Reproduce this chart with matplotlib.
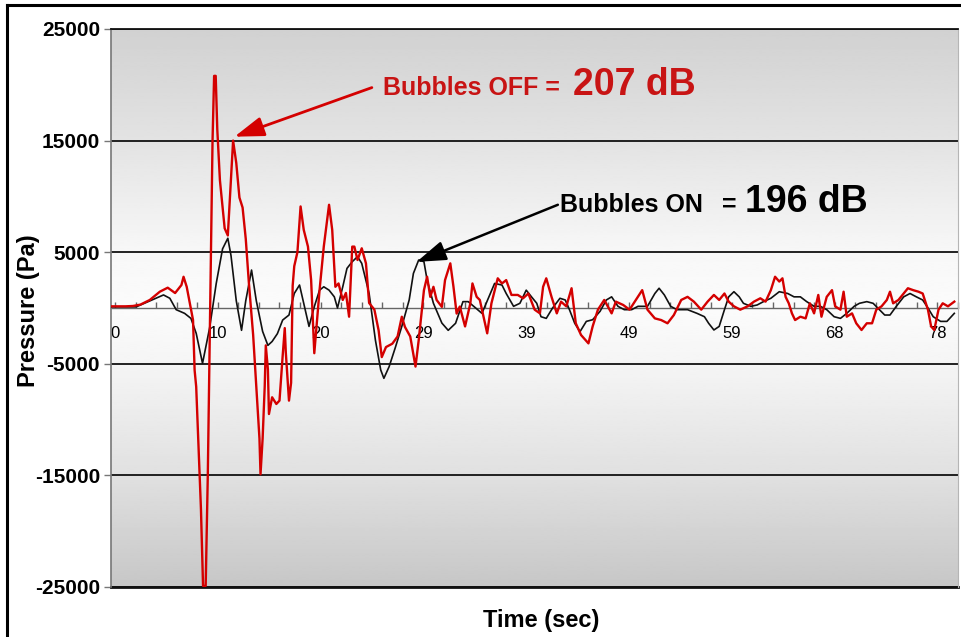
import numpy as np
import matplotlib
matplotlib.use("Agg")
import matplotlib.pyplot as plt
from matplotlib.lines import Line2D

plt.rcParams['font.family'] = ['Liberation Sans', 'DejaVu Sans']

# ---------------- data ----------------
# Bubbles OFF (red) : time (sec), pressure (Pa)
off_t = [-0.4, 1.0, 1.7, 2.4, 3.3, 4.25, 5.0, 5.7, 6.3, 6.5, 6.8, 7.4, 7.55,
         7.7, 7.95, 8.15, 8.35, 8.6, 8.8, 8.95, 9.1, 9.25, 9.4, 9.55, 9.7, 9.95,
         10.4, 10.7, 11.2, 11.5, 11.8, 12.1, 12.4, 12.7, 13.1, 13.4, 13.7, 13.8,
         14.0, 14.2, 14.3, 14.5, 14.6, 14.9, 15.3, 15.6, 15.9, 16.1,
         16.2, 16.5, 16.7, 16.85, 17.0, 17.3, 17.6, 17.9, 18.3, 18.6,
         18.9, 19.4, 19.8, 20.3, 20.6, 20.9, 21.2, 21.6, 21.9, 22.2,
         22.5, 22.7, 23.0, 23.4, 23.8, 24.1, 24.6, 25.0, 25.3, 25.7,
         26.3, 26.8, 27.2, 27.5, 28.0, 28.5, 28.8, 29.3, 29.6, 29.9,
         30.2, 30.5,
         31.0, 31.3, 31.8, 32.1, 32.4, 32.7, 33.2, 33.7, 33.9, 34.3,
         34.6, 35.3, 35.7, 36.3, 36.7, 37.1, 37.6, 38.2, 38.7, 39.2,
         39.8, 40.3, 40.6, 40.9, 41.4, 41.9, 42.3, 42.8, 43.3, 43.7,
         44.2, 44.9, 45.3, 45.8,
         46.4, 47.1, 47.5, 48.2, 48.8, 49.4, 50.0, 50.5, 51.2, 51.8,
         52.4, 53.0, 53.7, 54.3, 54.9, 55.6, 56.2, 56.8, 57.3, 57.8,
         58.2, 58.7, 59.3, 60.0, 60.6, 61.2, 61.7, 62.2, 62.6, 63.0,
         63.3, 63.6, 63.9, 64.2, 64.5, 65.0, 65.5, 65.9, 66.3, 66.7,
         67.0, 67.5, 68.0, 68.3, 68.8, 69.1, 69.4, 69.9, 70.3, 70.8,
         71.3, 71.8, 72.2, 72.7, 73.2, 73.5, 73.8, 74.3, 74.8, 75.2,
         75.7, 76.2, 76.6, 77.1, 77.4, 77.7, 78.1, 78.5, 79.0, 79.6]
off_p = [150, 150, 180, 300, 720, 1460, 1820, 1340, 2060, 2800, 1900, -1080, -5570,
         -7050, -13000, -18000, -24900, -24900, -15000, -5000, 5000, 15000, 20800, 20800, 16000, 11450,
         7140, 6500, 15000, 13000, 9900, 9000, 6200, 2200, -2400, -7050, -11700, -14900,
         -11700, -7000, -3350, -5500, -9500, -8000, -8600, -8300, -4300, -1800,
         -4000, -8300, -6700, 2000, 3750, 5000, 9100, 7000, 5500, 2500,
         -4050, 1600, 5500, 9250, 7000, 1900, 2200, 720, 1350, -780,
         5500, 5500, 4300, 5350, 4000, 450, -150, -2000, -4400, -3500,
         -3200, -2550, -780, -1700, -2550, -5250, -2900, 1600, 2800, 1000,
         1900, 720,
         100, 2500, 4000, 1900, -500, 130, -1650, 420, 2200, 1000,
         720, -2270, 420, 2660, 2200, 2500, 1170, 1170, 870, 1300,
         -150, -480, 1900, 2660, 1000, -480, 570, 150, 1770, -1370,
         -2420, -3170, -1650, -150,
         720, -480, 570, 270, -150, 720, 1600, -150, -930, -1080,
         -1370, -630, 720, 1000, 570, -150, 570, 1170, 720, 1300,
         570, 150, -150, 150, 570, 870, 570, 1600, 2800, 2370,
         2660, 1000, 420, -480, -1080, -780, -930, 420, -480, 1170,
         -780, 1000, 1600, 150, -150, 1460, -780, -480, -1370, -1970,
         -1370, -1370, -150, 150, 720, 1460, 420, 720, 1300, 1770,
         1600, 1460, 1300, -150, -1650, -1970, -150, 420, 150, 570]

# Bubbles ON (black)
on_t = [-0.4, 2.0, 3.3, 4.6, 5.2, 5.8, 6.6, 7.2, 7.7, 8.3,
        8.97, 9.6, 10.2, 10.7, 11.0, 11.5, 12.0, 12.4, 12.95, 13.4,
        14.0, 14.5, 14.9, 15.4, 15.9, 16.5, 17.0, 17.5, 17.9, 18.4,
        18.9, 19.4, 19.8, 20.3, 20.8, 21.1, 21.6, 22.0, 22.5, 23.0,
        23.4, 24.1, 24.7, 25.2, 25.5, 26.0, 26.6, 27.2, 27.9, 28.3,
        28.8, 29.3, 29.6, 30.2, 31.0, 31.6, 32.3, 33.0, 33.5, 34.2,
        34.8, 35.4, 36.0, 36.7, 37.1, 37.8, 38.4, 39.0, 39.5, 40.0,
        40.4, 40.9, 41.5, 42.2, 42.7, 43.1, 43.6, 44.1, 44.7, 45.3,
        46.0, 46.6, 47.1, 47.7, 48.3, 49.0, 49.6, 50.5, 51.2, 51.6,
        52.1, 52.7, 53.3, 54.3, 55.2, 55.9, 56.3, 56.8, 57.3, 57.8,
        58.2, 58.7, 59.2, 59.6, 60.3, 60.9, 61.5, 62.2, 63.0, 63.8,
        64.4, 65.0, 65.6, 66.3, 66.9, 67.5, 68.2, 68.8, 69.4, 70.1,
        70.6, 71.3, 71.9, 72.5, 73.0, 73.5, 74.1, 74.8, 75.4, 76.0,
        76.6, 77.1, 77.6, 78.3, 78.9, 79.6]
on_p = [100, 100, 630, 1170, 870, -150, -480, -930, -2270, -4960,
        -1800, 2200, 5300, 6250, 4700, 650, -2000, 650, 3400, 650,
        -2100, -3350, -3000, -2300, -1080, -630, 1300, 2060, 420, -1650,
        120, 1600, 1900, 1600, 1000, 0, 1900, 3550, 4150, 4600,
        4000, 1300, -2900, -5550, -6300, -5250, -3500, -1650, 720, 3100,
        4300, 4150, 2500, 420, -1350, -2000, -1370, 570, 570, 0,
        -480, 870, 2200, 2060, 1300, 150, 420, 1600, 1000, 420,
        -780, -930, 0, 870, 720, -150, -1370, -2120, -1200, -1050,
        -300, 720, 1000, 150, -150, -150, 150, 150, 1300, 1770,
        1170, 150, -150, -150, -480, -780, -1370, -1970, -1650, -150,
        1000, 1460, 1000, 420, 150, 270, 570, 870, 1460, 1300,
        1000, 1000, 570, 150, 150, -150, -780, -930, -480, 150,
        420, 570, 420, -150, -630, -630, 150, 1000, 1300, 1000,
        720, 0, -780, -1200, -1200, -480]

x_tick_labels = ["0", "10", "20", "29", "39", "49", "59", "68", "78"]
x_label_step = 9.75
y_ticks = [-25000, -15000, -5000, 5000, 15000, 25000]

RED = '#d40000'
RED_TXT = '#c81414'

# ---------------- figure ----------------
W, H = 961, 637
fig = plt.figure(figsize=(W / 100, H / 100), dpi=100)
fig.patch.set_facecolor('white')

L, R, T, B = 111, 958, 29, 587
ax = fig.add_axes([L / W, 1 - B / H, (R - L) / W, (B - T) / H])

# background gradient
fy = np.array([0.0, 0.2, 0.4, 0.5, 0.6, 0.8, 1.0])
fv = np.array([0.78, 0.88, 0.96, 0.985, 0.97, 0.89, 0.82])
yy = np.linspace(0, 1, 300)
grad = np.interp(yy, fy, fv)[::-1].reshape(-1, 1)
ax.imshow(grad, extent=[0, 1, 0, 1], transform=ax.transAxes, aspect='auto',
          cmap='gray', vmin=0, vmax=1, zorder=0, interpolation='bilinear')

ax.plot(on_t, on_p, color='#111111', lw=1.2, zorder=3)
ax.plot(off_t, off_p, color=RED, lw=1.7, zorder=4)

ax.set_xlim(-0.38, 79.6)
ax.set_ylim(-25000, 25000)

# y axis
ax.set_yticks(y_ticks)
ax.set_yticklabels([str(v) for v in y_ticks], fontsize=15, fontweight='bold')
ax.yaxis.grid(True, color='#111111', lw=1.3, zorder=1)
ax.tick_params(axis='y', direction='out', length=5, width=1, color='#777777', pad=3)

# x axis crossing at 0
ax.spines['bottom'].set_position(('data', 0))
ax.spines['bottom'].set_color('#666666')
ax.spines['bottom'].set_linewidth(1.0)
ax.spines['bottom'].set_zorder(2)
major = [k * x_label_step for k in range(len(x_tick_labels))]
ax.set_xticks(major)
ax.set_xticklabels(x_tick_labels, fontsize=12)
ax.set_xticks(np.arange(0, 80, x_label_step / 5), minor=True)
ax.tick_params(axis='x', which='both', direction='in', length=4, width=1,
               color='#666666', pad=13)
ax.spines['left'].set_color('#777777')
ax.spines['left'].set_linewidth(1.2)
ax.spines['right'].set_color('#b5b5b5')
ax.spines['top'].set_color('#111111')
ax.spines['top'].set_linewidth(1.3)
ax.axhline(-25000, color='#111111', lw=2.0, zorder=2, clip_on=False)

# axis titles
fig.text(29 / W, 1 - 311 / H, 'Pressure (Pa)', rotation=90, ha='center', va='center',
         fontsize=17, fontweight='bold')
fig.text(541 / W, 1 - 620 / H, 'Time (sec)', ha='center', va='center',
         fontsize=17, fontweight='bold')

# annotations
ax.annotate('', xy=(11.33, 15350), xytext=(24.36, 19750),
            arrowprops=dict(arrowstyle='-|>,head_length=0.9,head_width=0.3',
                            color=RED, lw=2.0, mutation_scale=20, shrinkA=0, shrinkB=0),
            zorder=6)
ax.annotate('', xy=(28.6, 4130), xytext=(42.0, 9250),
            arrowprops=dict(arrowstyle='-|>,head_length=0.9,head_width=0.3',
                            color='black', lw=1.8, mutation_scale=20, shrinkA=0, shrinkB=0),
            zorder=6)

fig.text(383 / W, 1 - 95 / H, 'Bubbles OFF =', color=RED_TXT, fontsize=18,
         fontweight='bold', ha='left', va='baseline')
fig.text(573 / W, 1 - 95 / H, '207 dB', color=RED_TXT, fontsize=27,
         fontweight='bold', ha='left', va='baseline')
fig.text(560 / W, 1 - 212 / H, 'Bubbles ON', color='black', fontsize=18,
         fontweight='bold', ha='left', va='baseline')
fig.text(722 / W, 1 - 212 / H, '=', color='black', fontsize=18,
         fontweight='bold', ha='left', va='baseline')
fig.text(745 / W, 1 - 212 / H, '196 dB', color='black', fontsize=27,
         fontweight='bold', ha='left', va='baseline')

# outer frame (top and left)
fig.add_artist(Line2D([7 / W, 7 / W], [0, 1 - 5 / H], transform=fig.transFigure,
                      color='black', lw=2.2))
fig.add_artist(Line2D([7 / W, 1], [1 - 5 / H, 1 - 5 / H], transform=fig.transFigure,
                      color='black', lw=2.2))

fig.savefig('out.png', dpi=100, facecolor='white')
